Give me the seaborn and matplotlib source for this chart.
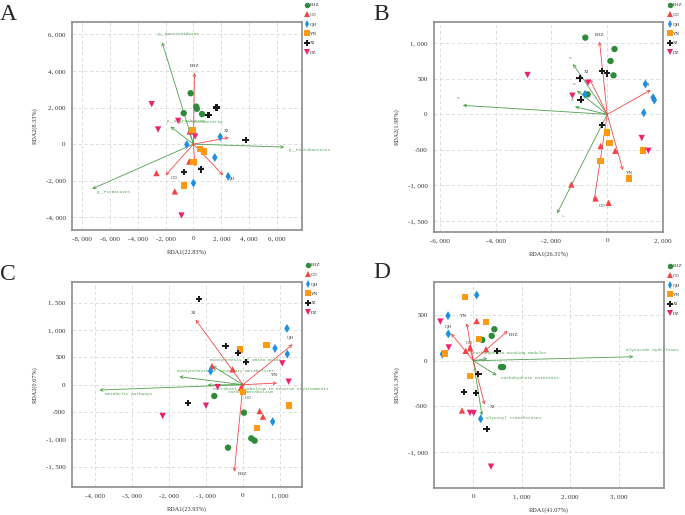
import matplotlib
matplotlib.use("Agg")
import matplotlib.pyplot as plt
from matplotlib.ticker import FuncFormatter, MultipleLocator
import seaborn as sb
import pandas as pd

groups = ['BHZ', 'CD', 'QH', 'YN', 'XJ', 'DZ']
colors = {'BHZ': '#2e8b3a', 'CD': '#f44545', 'QH': '#1f8fe0',
          'YN': '#ff9a10', 'XJ': '#1a1a1a', 'DZ': '#ea2370'}
markers = {'BHZ': 'o', 'CD': '^', 'QH': 'd', 'YN': 's', 'XJ': 'P', 'DZ': 'v'}

# ---- panel A (phylum) ----
a_grp = ['BHZ'] * 5 + ['CD'] * 4 + ['QH'] * 5 + ['YN'] * 5 + ['XJ'] * 5 + ['DZ'] * 5
a_rda1 = [-200, 200, 240, 620, -700,
          -260, -300, -2660, -1340,
          1920, -480, 1530, 2490, 0,
          -70, 460, 740, 0, -700,
          1650, 1080, 3740, -700, 550,
          -3000, -1100, -2540, 120, -860]
a_rda2 = [2780, 2050, 1930, 1640, 1690,
          690, -950, -1580, -2580,
          400, -20, -730, -1760, -2130,
          780, -250, -400, -980, -2250,
          2000, 1580, 240, -1530, -1380,
          2180, 1270, 800, 420, -3900]
a_site = ['BHZ', 'XJ', 'CD', 'QH', 'YN']
a_site_x = [70, 2540, -2000, 2130, 100]
a_site_y = [3900, 360, -1700, -1700, -1220]
a_env = ['p__Bacteroidetes', 'p__Fibrobacteres', 'p__Firmicutes',
         'p__Spirochaetes', 'p__Proteobacteria']
a_env_x = [-2250, 6520, -7270, -1650, -380]
a_env_y = [5560, -160, -2440, 960, 780]

# ---- panel B ----
b_grp = [g for g in groups for _ in range(5)]
b_rda1 = [-786, 262, 119, 226, -702,
          -238, 286, -1286, -417, 48,
          1369, 1643, 1690, 1310, -798,
          -12, 83, -238, 1274, 786,
          -179, 0, -988, -952, -190,
          -2857, -690, -1250, 1238, 1476]
b_rda2 = [1080, 920, 751, 549, 282,
          -446, -512, -986, -1183, -1244,
          427, 235, 202, 23, 282,
          -254, -399, -653, -507, -901,
          610, 577, 507, 207, -150,
          554, 446, 263, -333, -512]
b_site = ['BHZ', 'XJ', 'QH', 'YN', 'CD']
b_site_x = [-274, -631, 1560, 560, -476]
b_site_y = [1023, 498, 343, -784, -1230]
b_env = ['S', 'L', 'S', 'N', 'E']
b_env_x = [-5179, -1798, -1226, -1083, -1155]
b_env_y = [127, -1394, 709, 333, 108]

# ---- panel C (KEGG) ----
c_grp = [g for g in groups for _ in range(5)]
c_rda1 = [-775, 27, 225, 315, -405,
          -838, -279, 450, 540, -54,
          1189, 865, 1198, -874, 802,
          -72, 640, 1252, 378, 0,
          -1180, -468, -126, 90, -1486,
          1063, 1234, -685, -1000, -2171]
c_rda2 = [-207, -512, -982, -1024, -1152,
          341, 280, -482, -585, -55,
          1030, 665, 561, 250, -677,
          646, 726, -384, -787, -128,
          1567, 707, 585, 421, -335,
          390, 55, -43, -384, -573]
c_site = ['XJ', 'QH', 'YN', 'CD', 'BHZ']
c_site_x = [-1279, 1342, 919, -54, -234]
c_site_y = [1189, 738, 30, -189, -1591]
c_env = ['Metabolic pathways', 'Biosynthesis of secondary metabolites',
         'Biosynthesis of amino acids',
         'Microbial metabolism in diverse environments', 'Carbon metabolism']
c_env_x = [-3883, -1721, -820, -955, -60]
c_env_y = [-98, 146, 341, -6, -40]

# ---- panel D (CAZy) ----
d_grp = [g for g in groups for _ in range(5)]
d_rda1 = [434, 379, 186, 571, 613,
          69, 262, -158, -62, -234,
          69, -523, -516, -640, 151,
          -172, 255, 117, -585, -69,
          496, 103, -193, 55, 275,
          -681, -509, -69, 7, 365]
d_rda2 = [346, 273, 229, -69, -69,
          437, 127, 109, 138, -546,
          721, 495, 295, 73, -637,
          699, 426, 240, 80, -164,
          106, -142, -342, -357, -750,
          430, 146, -572, -575, -1162]
d_site = ['BHZ', 'YN', 'QH', 'CD', 'XJ']
d_site_x = [709, -138, -461, -89, 234]
d_site_y = [328, 412, 299, 175, -481]
d_env = ['Glycoside Hydrolases', 'Carbohydrate-Binding Modules',
         'Carbohydrate Esterases', 'Glycosyl Transferases']
d_env_x = [3303, 289, 482, 179]
d_env_y = [44, 25, -160, -601]

W, H = 685, 515
fig = plt.figure(figsize=(6.85, 5.15), dpi=100)
sb.set_style("white")

def fmt(v, p):
    return f"{v:,.0f}".replace(",", ", ")

serif = "Liberation Serif"
mono = "Liberation Mono"

def panel(box, letter, letter_xy, legend_xy, grp, x, y,
          site, sx, sy, site_off, env, ex, ey, env_off,
          xlim, ylim, xstep, ystep, xlab, ylab):
    l, t, r, b = box
    ax = fig.add_axes([l / W, 1 - b / H, (r - l) / W, (b - t) / H])
    ax.set_xlim(*xlim)
    ax.set_ylim(*ylim)
    ax.xaxis.set_major_locator(MultipleLocator(xstep))
    ax.yaxis.set_major_locator(MultipleLocator(ystep))
    ax.grid(True, color='#d8d8d8', ls=(0, (4, 3)), lw=0.6, zorder=0)
    for s in ax.spines.values():
        s.set_color('#8c8c8c')
        s.set_linewidth(1.2)
    ax.xaxis.set_major_formatter(FuncFormatter(fmt))
    ax.yaxis.set_major_formatter(FuncFormatter(fmt))
    ax.tick_params(length=2.5, width=0.6, color='#8c8c8c', labelsize=5,
                   labelcolor='#333333', pad=2)
    for lab in ax.get_xticklabels() + ax.get_yticklabels():
        lab.set_family(serif)

    # arrows
    for name, tx, ty, off in zip(env, ex, ey, env_off):
        ax.annotate("", xy=(tx, ty), xytext=(0, 0),
                    arrowprops=dict(arrowstyle="->", color='#4f9f4f', lw=0.6,
                                    shrinkA=0, shrinkB=0, mutation_scale=5),
                    zorder=2)
        ax.annotate(name, xy=(tx, ty), xytext=off, textcoords="offset points",
                    ha='left', va='center', fontsize=3.2, color='#4f9f4f',
                    family=mono, annotation_clip=False, zorder=2)
    for name, tx, ty, off in zip(site, sx, sy, site_off):
        ax.annotate("", xy=(tx, ty), xytext=(0, 0),
                    arrowprops=dict(arrowstyle="->", color='#f04848', lw=0.6,
                                    shrinkA=0, shrinkB=0, mutation_scale=5),
                    zorder=2)
        ax.annotate(name, xy=(tx, ty), xytext=off, textcoords="offset points",
                    ha='center', va='center', fontsize=3.5, color='#333333',
                    family=serif, zorder=2)

    df = pd.DataFrame({'RDA1': x, 'RDA2': y, 'group': grp})
    sb.scatterplot(data=df, x='RDA1', y='RDA2', hue='group', style='group',
                   hue_order=groups, style_order=groups, palette=colors,
                   markers=markers, s=21, linewidth=0, ax=ax, zorder=3)
    h, lbl = ax.get_legend_handles_labels()
    ax.legend(h, lbl, loc='upper left', bbox_to_anchor=(legend_xy[0] / W, 1 - legend_xy[1] / H),
              bbox_transform=fig.transFigure, frameon=False, borderpad=0,
              borderaxespad=0, handletextpad=0.0, labelspacing=1.05,
              handlelength=1.2, markerscale=0.85,
              prop={'family': serif, 'size': 3.5})
    ax.set_xlabel(xlab, fontsize=4.5, family=serif, color='#333333', labelpad=6)
    ax.set_ylabel(ylab, fontsize=4.5, family=serif, color='#333333', labelpad=6)
    fig.text(letter_xy[0] / W, 1 - letter_xy[1] / H, letter, fontsize=17,
             family=serif, ha='left', va='top')
    return ax

panel((72, 22, 302, 230), 'A', (0, 4), (304, 3),
      a_grp, a_rda1, a_rda2,
      a_site, a_site_x, a_site_y, [(0, 5), (-2, 5), (6, -2), (6, -2), (5, -2)],
      a_env, a_env_x, a_env_y, [(-3, 6), (3, -2), (3, -2), (-3, 4), (-7, 6)],
      (-8720, 7790), (-4690, 6670), 2000, 2000, 'RDA1(22.83%)', 'RDA2(8.33%)')

panel((434, 22, 663, 232), 'B', (373, 4), (667, 3),
      b_grp, b_rda1, b_rda2,
      b_site, b_site_x, b_site_y, [(0, 5), (-2, 5), (-3, 4), (5, -2), (6, -3)],
      b_env, b_env_x, b_env_y, [(-4, 5), (3, -2), (-3, 4), (-3, 4.5), (-3, 4.5)],
      (-6210, 2000), (-1655, 1300), 2000, 500, 'RDA1(26.31%)', 'RDA2(1.98%)')

panel((72, 282, 302, 487), 'C', (0, 264), (305, 263),
      c_grp, c_rda1, c_rda2,
      c_site, c_site_x, c_site_y, [(-1.5, 4.5), (-2, 5), (-2, 5.5), (5, -2), (6, -2)],
      c_env, c_env_x, c_env_y, [(4, -3), (-2, 4), (-2, 4), (4, -3), (-9, -4)],
      (-4620, 1595), (-1872, 1879), 1000, 500, 'RDA1(23.93%)', 'RDA2(0.67%)')

panel((434, 282, 664, 488), 'D', (373, 262), (667, 264),
      d_grp, d_rda1, d_rda2,
      d_site, d_site_x, d_site_y, [(4, -3), (-2, 5), (-2, 5), (0, 1), (6, -2)],
      d_env, d_env_x, d_env_y, [(-5, 5), (-10, 4), (3, -2), (3, -2)],
      (-812, 3936), (-1396, 864), 1000, 500, 'RDA1(41.07%)', 'RDA2(1.39%)')

fig.savefig("out.png", dpi=100)
